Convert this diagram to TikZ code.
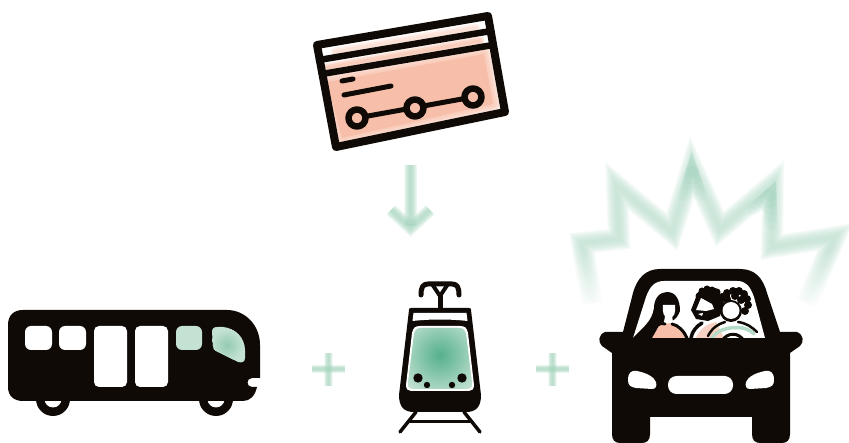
\documentclass[tikz,border=0pt]{standalone}
\usetikzlibrary{calc,fadings}
\definecolor{ink}{HTML}{0F0A06}
\definecolor{mint}{HTML}{93CBB0}
\definecolor{deepmint}{HTML}{55B08D}
\definecolor{palemint}{HTML}{C4E2D3}
\definecolor{salmon}{HTML}{F7BFA9}
\tikzset{
  solid ink/.style={fill=ink, draw=none},
  hole/.style={fill=white, draw=none},
  outline/.style={draw=ink, line width=#1, line cap=round, line join=round},
  outline/.default=6pt,
  hair/.style={fill=ink, draw=none}
}
% blurred stroke, built up from wide to narrow
\newcommand{\softline}[3]{
  \foreach \w in {2.2,2.0,1.8,1.6,1.4,1.2,1.0,0.8,0.6,0.4}
    \draw[#1, line width=#2*\w pt, opacity=0.12, line join=miter, line cap=butt] #3;
}
\begin{document}
\begin{tikzpicture}[x=1pt, y=-1pt]
\useasboundingbox (0,0) rectangle (849,443);

% card
\begin{scope}
\clip (317,45) -- (488,16) -- (505,112) -- (336,147) -- cycle;
\fill[salmon] (327,82) -- (484,54) -- (493,104) -- (342,138) -- cycle;
\foreach \w in {4,8,12,16}
  \draw[salmon, line width=\w pt, opacity=0.3, line join=round] (327,82) -- (484,54) -- (493,104) -- (342,138) -- cycle;
\foreach \w in {3,6,9}
  \draw[salmon, line width=\w pt, opacity=0.4, line cap=round] (326,68) -- (480,41);
\foreach \w in {3,6,9}
  \draw[salmon, line width=\w pt, opacity=0.2, line cap=round] (335,52) -- (476,28);
\end{scope}
\draw[outline=8pt] (317,45) -- (488,16) -- (505,112) -- (336,147) -- cycle;
\draw[outline=6.5pt] (319,60) -- (491,31);
\draw[outline=6.5pt] (322,74) -- (493,45);
\draw[outline=5pt] (342,81) -- (353,79);
\draw[outline=5pt] (344,95) -- (391,86);
\draw[outline=5pt] (357,118) -- (473,97);
\foreach \cx/\cy in {357/118, 415/108, 473/97}
  \draw[outline=6.5pt, fill=salmon] (\cx,\cy) circle (8.5);

% arrow
\softline{mint!85!white}{6pt}{(410.5,165) -- (410.5,226)}
\softline{mint!85!white}{6pt}{(391,210) -- (410.5,228) -- (430,210)}

% plus signs
\softline{mint!85!white}{3.8pt}{(312,369) -- (345,369)}
\softline{mint!85!white}{3.8pt}{(328.5,353) -- (328.5,386)}
\softline{mint!85!white}{3.8pt}{(536,369) -- (569,369)}
\softline{mint!85!white}{3.8pt}{(552.5,353) -- (552.5,386)}

% bus
\draw[solid ink] (53,399) circle (17);
\draw[solid ink] (216,399) circle (17);
\draw[hole] (53,399) circle (8.5);
\draw[hole] (216,399) circle (8.5);
\fill[ink] (8,325) .. controls (8,315) and (14,310) .. (23,310) -- (227,310)
  .. controls (245,310) and (260,325) .. (260,345) -- (260,378) -- (252,378)
  .. controls (246,378) and (246,387) .. (252,387) -- (257,387)
  .. controls (255,396) and (250,401) .. (243,401) -- (23,401)
  .. controls (14,401) and (8,396) .. (8,387) -- cycle;
\foreach \wx/\wd in {25/27, 59/27}
  \fill[white, rounded corners=6pt] (\wx,326) rectangle ++(\wd,24);
\foreach \wx in {94,135}
  \fill[white, rounded corners=5pt] (\wx,326) rectangle ++(33,61);
\fill[palemint, rounded corners=6pt] (176,326) rectangle (202,350);
\begin{scope}
\clip (212,332) .. controls (212,328) and (214,327) .. (218,327) -- (223,327)
  .. controls (235,328) and (245,338) .. (245,350) -- (245,358)
  .. controls (245,362) and (242,363) .. (238,362) -- (218,352)
  .. controls (214,350) and (213,349) .. (213,346) -- cycle;
\fill[palemint] (205,320) rectangle (250,370);
\shade[inner color=mint, outer color=palemint] (227,345) circle (16);
\end{scope}

% tram
\draw[outline=5pt] (440,296) -- (440,310);
\draw[outline=4pt] (440,296) -- (432,284);
\draw[outline=4pt] (440,296) -- (448,284);
\draw[outline=5pt] (421,295) .. controls (421,287) and (423,284) .. (428,284) -- (452,284) .. controls (457,284) and (459,287) .. (459,295);
\draw[outline=3.5pt] (416,412) -- (400,432);
\draw[outline=3.5pt] (464,412) -- (480,432);
\draw[outline=3pt] (410,422) -- (470,422);
\fill[ink] (411,308) -- (469,308) .. controls (471,308) and (471,309) .. (471,310)
  -- (481,395) .. controls (481,407) and (476,412) .. (466,412) -- (414,412)
  .. controls (404,412) and (399,407) .. (399,395) -- (409,310) .. controls (409,309) and (409,308) .. (411,308) -- cycle;
\fill[white] (413.5,313) -- (466.5,313) -- (467.5,321) .. controls (450,319) and (430,319) .. (412.5,321) -- cycle;
\fill[white] (420,326) -- (460,326) .. controls (465,326) and (467,328) .. (468,333)
  -- (474,385) .. controls (474,389) and (472,391) .. (469,391) -- (411,391)
  .. controls (408,391) and (406,389) .. (406,385) -- (412,333) .. controls (413,328) and (415,326) .. (420,326) -- cycle;
\begin{scope}
\clip (421,328) -- (459,328) .. controls (463,328) and (465,330) .. (466,334)
  -- (472,384) .. controls (472,388) and (470,389) .. (467,389) -- (413,389)
  .. controls (410,389) and (408,388) .. (408,384) -- (414,334) .. controls (415,330) and (417,328) .. (421,328) -- cycle;
\fill[palemint] (400,320) rectangle (480,395);
\shade[inner color=deepmint, outer color=palemint] (440,355) circle (44);
\end{scope}
\foreach \dx/\dy/\dr in {418/378/4.7, 462/378/4.7, 427/385/3.2, 452/385/3.2}
  \fill[ink] (\dx,\dy) circle (\dr);

% burst behind the car
\softline{mint!65!white}{10pt}{(592,303) -- (582,243) -- (619,239) -- (617,186) -- (672,232) -- (692,167) -- (720,229) -- (773,184) -- (772,247) -- (835,237) -- (807,303)}
\foreach \f in {0,0.2,0.4,0.6,0.8}
  \draw[deepmint, line width=13pt, opacity=0.05, line cap=round] ($(692,172)!\f!(683,200)$) -- (692,172) -- ($(692,172)!\f!(702,200)$);
\foreach \f in {0,0.2,0.4,0.6,0.8}
  \draw[deepmint, line width=13pt, opacity=0.05, line cap=round] ($(770,195)!\f!(750,212)$) -- (770,195) -- ($(770,195)!\f!(771,230)$);
\fill[white, path fading=north] (565,250) rectangle (606,312);
\fill[white, path fading=north] (792,250) rectangle (849,312);

% car
\fill[ink] (612,353) -- (602,346) .. controls (598,342) and (598,335) .. (605,332)
  -- (623,332) -- (633,293) .. controls (637,278) and (646,269) .. (660,269)
  -- (740,269) .. controls (755,269) and (763,278) .. (767,293) -- (780,332)
  -- (797,332) .. controls (804,335) and (804,342) .. (800,346) -- (790,353)
  -- (790,434) .. controls (790,440) and (787,443) .. (782,443) -- (760,443)
  .. controls (755,443) and (752,440) .. (752,434) -- (752,417) -- (650,417)
  -- (650,434) .. controls (650,440) and (647,443) .. (642,443) -- (620,443)
  .. controls (615,443) and (612,440) .. (612,434) -- cycle;
\begin{scope}
\clip (633,338) -- (646,297) .. controls (650,286) and (655,281) .. (664,281) -- (737,281)
  .. controls (746,281) and (750,286) .. (754,297) -- (765,338) -- cycle;
\fill[white] (625,275) rectangle (775,340);
% woman
\fill[salmon] (652,338) .. controls (654,328) and (660,323) .. (668,323) .. controls (676,323) and (682,328) .. (685,338) -- cycle;
\fill[hair] (633,338) .. controls (642,328) and (652,322) .. (654,308) .. controls (654,298) and (660,292) .. (667,292)
  .. controls (676,292) and (680,300) .. (680,311) .. controls (678,316) and (676,319) .. (672,321) -- (661,322) -- (652,338) -- cycle;
\fill[white] (663,305) -- (675,305) .. controls (676,313) and (674,318) .. (669,318) .. controls (664,318) and (662,313) .. (663,305) -- cycle;
\fill[white] (665,316) -- (672,316) -- (673,322) .. controls (670,324) and (667,324) .. (664,322) -- cycle;
\draw[outline=3pt] (658,325) .. controls (661,323) and (663,323) .. (665,324) (672,324) .. controls (678,325) and (684,331) .. (687,338);
% middle passenger
\draw[outline=3.5pt] (691,338) .. controls (692,331) and (697,326) .. (702,323);
\fill[salmon!70!white] (696,338) .. controls (699,330) and (706,324) .. (716,322) -- (724,338) -- cycle;
\fill[hair] (698,292) -- (716,288) -- (724,300) -- (720,316) -- (708,321) -- (696,319) -- (691,310) -- cycle;
\foreach \hx/\hy in {702/291, 707/289, 712/290, 717/292, 699/296, 721/298}
  \fill[ink] (\hx,\hy) circle (3.5);
\fill[white] (701,298) -- (712,304) -- (714,309) -- (706,311) -- (696,310) -- cycle;
\fill[white] (698,314) -- (703,313) -- (702,316) -- cycle;
% driver
\foreach \hx/\hy in {720/303, 722/297, 727/293, 733/291, 739/291, 744/294, 747/299, 748/305, 745/311, 720/310, 735/296, 727/299, 741/300}
  \fill[ink] (\hx,\hy) circle (4);
\fill[ink] (731,311) circle (11);
\fill[white] (731,310.5) circle (8.5);
\draw[mint!70!white, line width=3.5pt, line cap=round] (712,338) .. controls (718,327) and (744,323) .. (754,334);
\draw[outline=2.5pt] (708,336) .. controls (712,328) and (718,324) .. (725,322);
\draw[outline=2.5pt] (738,322) .. controls (746,323) and (752,327) .. (757,332);
\draw[outline=3pt] (722,341) .. controls (727,332) and (739,332) .. (744,341);
\end{scope}
\fill[white] (628,380) .. controls (628,372) and (632,370) .. (637,371) .. controls (647,373) and (654,377) .. (656,382)
  .. controls (657,386) and (656,389) .. (652,389) -- (636,388) .. controls (630,387) and (628,385) .. (628,380) -- cycle;
\fill[white] (774,380) .. controls (774,372) and (770,370) .. (765,371) .. controls (755,373) and (748,377) .. (746,382)
  .. controls (745,386) and (746,389) .. (750,389) -- (766,388) .. controls (772,387) and (774,385) .. (774,380) -- cycle;
\fill[white, rounded corners=8.5pt] (668,376) rectangle (733,394);

\end{tikzpicture}
\end{document}
